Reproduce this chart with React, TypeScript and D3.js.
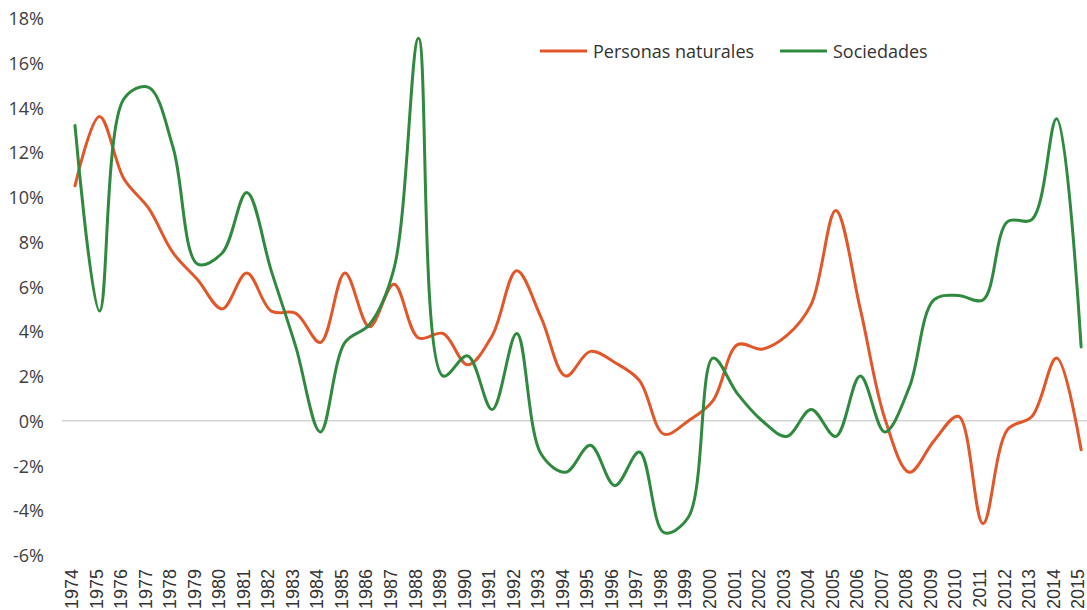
import React from "react";
import * as d3 from "d3";

const years: number[] = [
  1974, 1975, 1976, 1977, 1978, 1979, 1980, 1981, 1982, 1983, 1984, 1985, 1986, 1987,
  1988, 1989, 1990, 1991, 1992, 1993, 1994, 1995, 1996, 1997, 1998, 1999, 2000, 2001,
  2002, 2003, 2004, 2005, 2006, 2007, 2008, 2009, 2010, 2011, 2012, 2013, 2014, 2015,
];

const personasNaturales: number[] = [
  10.5, 13.6, 10.8, 9.5, 7.5, 6.3, 5.0, 6.6, 4.9, 4.8, 3.5, 6.6, 4.2, 6.1,
  3.7, 3.9, 2.5, 3.8, 6.7, 4.6, 2.0, 3.1, 2.6, 1.8, -0.6, 0.0, 0.9, 3.4,
  3.2, 3.8, 5.2, 9.4, 5.0, 0.1, -2.3, -0.9, 0.2, -4.6, -0.4, 0.2, 2.8, -1.3,
];

const sociedades: number[] = [
  13.2, 4.9, 14.4, 14.9, 12.2, 7.0, 7.5, 10.2, 6.7, 3.3, -0.5, 3.5, 4.3, 6.8,
  17.1, 2.0, 2.9, 0.5, 3.9, -1.5, -2.3, -1.1, -2.9, -1.4, -5.0, -4.3, 2.8, 1.2,
  0.0, -0.7, 0.5, -0.7, 2.0, -0.5, 1.5, 5.4, 5.6, 5.4, 8.9, 9.0, 13.5, 3.3,
];

const yTicks: number[] = [-6, -4, -2, 0, 2, 4, 6, 8, 10, 12, 14, 16, 18];

const seriesNames: string[] = ["Personas naturales", "Sociedades"];
const seriesColors: string[] = ["#E2572A", "#2F8A3F"];

const W = 1087;
const H = 610;

export default function App() {
  const x = d3
    .scalePoint<number>()
    .domain(years)
    .range([62.7, 1093.4])
    .padding(0.5);
  const y = d3.scaleLinear().domain([-6, 18]).range([555, 18]);

  const line = d3
    .line<number>()
    .x((_, i) => x(years[i]) as number)
    .y((d) => y(d))
    .curve(d3.curveCatmullRom.alpha(0.5));

  const data = [personasNaturales, sociedades];
  const legendX = [540, 780];

  return (
    <svg
      width={W}
      height={H}
      style={{ position: "absolute", left: 0, top: 0, background: "#fff" }}
    >
      <line x1={62} x2={W} y1={y(0)} y2={y(0)} stroke="#d3d3d3" strokeWidth={1.5} />
      {yTicks.map((t) => (
        <text
          key={t}
          x={44}
          y={y(t)}
          textAnchor="end"
          dominantBaseline="central"
          fontFamily="'Open Sans', sans-serif"
          fontSize={18}
          fill="#404040"
        >
          {t}%
        </text>
      ))}
      {years.map((yr) => {
        const cx = (x(yr) as number) - 3;
        return (
          <text
            key={yr}
            transform={`translate(${cx},569) rotate(-90)`}
            textAnchor="end"
            dominantBaseline="central"
            fontFamily="'Liberation Sans', Arial, sans-serif"
            fontSize={18}
            fill="#333"
          >
            {yr}
          </text>
        );
      })}
      {data.map((d, i) => (
        <path
          key={seriesNames[i]}
          d={line(d) || ""}
          fill="none"
          stroke={seriesColors[i]}
          strokeWidth={3}
          strokeLinejoin="round"
          strokeLinecap="round"
        />
      ))}
      {seriesNames.map((n, i) => (
        <g key={n}>
          <line
            x1={legendX[i]}
            x2={legendX[i] + 47}
            y1={51}
            y2={51}
            stroke={seriesColors[i]}
            strokeWidth={3}
          />
          <text
            x={legendX[i] + 53}
            y={51}
            dominantBaseline="central"
            fontFamily="'Open Sans', sans-serif"
            fontSize={18}
            fill="#333"
          >
            {n}
          </text>
        </g>
      ))}
    </svg>
  );
}
